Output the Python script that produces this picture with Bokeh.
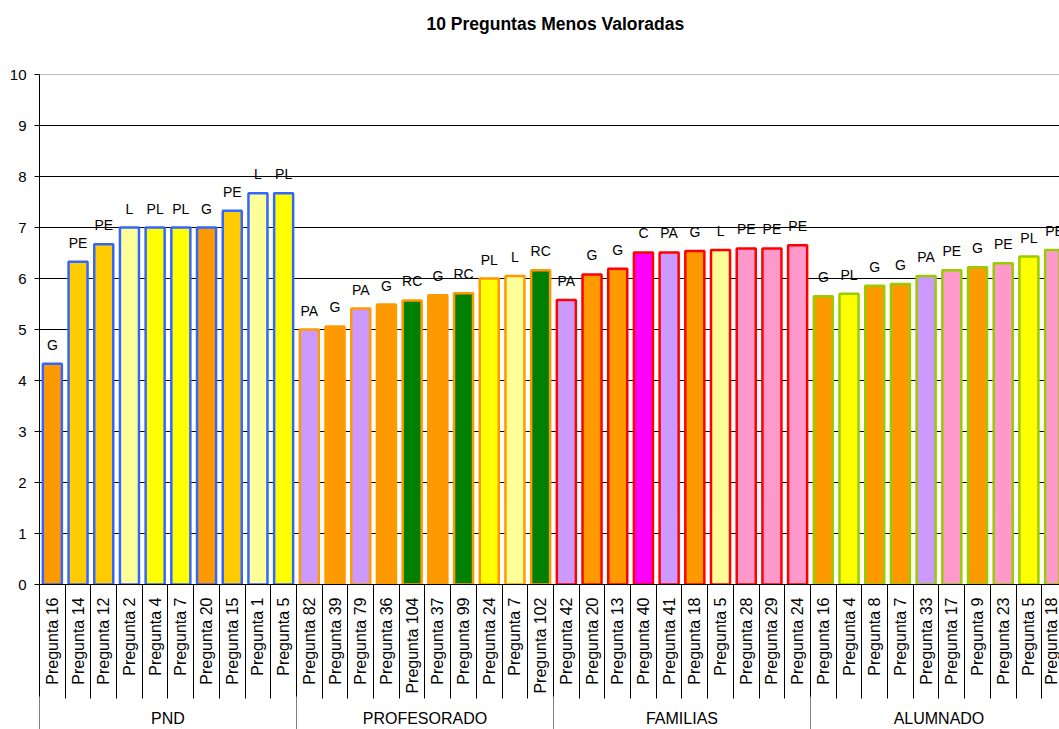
import math
from bokeh.plotting import figure
from bokeh.models import ColumnDataSource, Range1d, LinearAxis, FixedTicker, Span
from bokeh.core.properties import value
from bokeh.embed import file_html
from bokeh.resources import INLINE

# ---------------- data ----------------
groups = ["PND", "PROFESORADO", "FAMILIAS", "ALUMNADO"]

pnd_questions = ["Pregunta 16", "Pregunta 14", "Pregunta 12", "Pregunta 2", "Pregunta 4",
                 "Pregunta 7", "Pregunta 20", "Pregunta 15", "Pregunta 1", "Pregunta 5"]
pnd_values = [4.33, 6.33, 6.67, 7.0, 7.0, 7.0, 7.0, 7.33, 7.67, 7.67]
pnd_codes = ["G", "PE", "PE", "L", "PL", "PL", "G", "PE", "L", "PL"]

prof_questions = ["Pregunta 82", "Pregunta 39", "Pregunta 79", "Pregunta 36", "Pregunta 104",
                  "Pregunta 37", "Pregunta 99", "Pregunta 24", "Pregunta 7", "Pregunta 102"]
prof_values = [5.0, 5.06, 5.41, 5.49, 5.57, 5.67, 5.71, 6.0, 6.05, 6.16]
prof_codes = ["PA", "G", "PA", "G", "RC", "G", "RC", "PL", "L", "RC"]

fam_questions = ["Pregunta 42", "Pregunta 20", "Pregunta 13", "Pregunta 40", "Pregunta 41",
                 "Pregunta 18", "Pregunta 5", "Pregunta 28", "Pregunta 29", "Pregunta 24"]
fam_values = [5.58, 6.08, 6.19, 6.51, 6.51, 6.54, 6.56, 6.59, 6.59, 6.65]
fam_codes = ["PA", "G", "G", "C", "PA", "G", "L", "PE", "PE", "PE"]

alu_questions = ["Pregunta 16", "Pregunta 4", "Pregunta 8", "Pregunta 7", "Pregunta 33",
                 "Pregunta 17", "Pregunta 9", "Pregunta 23", "Pregunta 5", "Pregunta 18"]
alu_values = [5.65, 5.70, 5.86, 5.89, 6.05, 6.16, 6.22, 6.30, 6.43, 6.56]
alu_codes = ["G", "PL", "G", "G", "PA", "PE", "G", "PE", "PL", "PE"]

y_ticks = [0, 1, 2, 3, 4, 5, 6, 7, 8, 9, 10]

# ---------------- styles ----------------
fill_by_code = {"G": "#FF9900", "PE": "#FF99CC", "L": "#FFFF99", "PL": "#FFFF00",
                "PA": "#CC99FF", "RC": "#008000", "C": "#FF00FF"}
pnd_pe_fill = "#FFCC00"
outline_by_group = {"PND": "#3366FF", "PROFESORADO": "#FF9900",
                    "FAMILIAS": "#FF0000", "ALUMNADO": "#99CC00"}
FONT = "Liberation Sans"

# ---------------- assemble ----------------
all_q = [pnd_questions, prof_questions, fam_questions, alu_questions]
all_v = [pnd_values, prof_values, fam_values, alu_values]
all_c = [pnd_codes, prof_codes, fam_codes, alu_codes]

xs, tops, codes, names, fills, lines = [], [], [], [], [], []
group_centers, boundaries = [], [0]
i = 0
for g, qs, vs, cs in zip(groups, all_q, all_v, all_c):
    start = i
    for q, v, c in zip(qs, vs, cs):
        xs.append(i + 0.5)
        tops.append(v)
        codes.append(c)
        names.append(q)
        fills.append(pnd_pe_fill if (g == "PND" and c == "PE") else fill_by_code[c])
        lines.append(outline_by_group[g])
        i += 1
    group_centers.append((start + i) / 2)
    boundaries.append(i)

src = ColumnDataSource(dict(x=xs, top=tops, code=codes, fill=fills, line=lines))

p = figure(width=1059, height=729, output_backend="svg", toolbar_location=None,
           x_range=Range1d(0, 39.69), y_range=Range1d(0, 10),
           min_border_left=39, min_border_right=0, min_border_top=74, min_border_bottom=145,
           background_fill_color="white", border_fill_color="white")
p.outline_line_color = None

xa = p.below[0]   # default bottom axis -> question labels
ya = p.left[0]

# invisible spacer axis above the frame so that the title sits high
spacer = LinearAxis(ticker=FixedTicker(ticks=[xs[0]]), axis_line_color=None,
                    major_tick_line_color=None, minor_tick_line_color=None,
                    major_tick_out=36, major_tick_in=0, minor_tick_out=0, minor_tick_in=0,
                    major_label_standoff=0, major_label_text_font_size="1px",
                    major_label_text_color=None)
spacer.major_label_overrides = {xs[0]: " "}
p.add_layout(spacer, "above")

p.title.text = "10 Preguntas Menos Valoradas"
p.title.text_font = FONT
p.title.text_font_size = "17.5px"
p.title.text_font_style = "bold"
p.title.text_color = "black"
p.title.align = "left"
p.title.offset = 387
p.title.standoff = 10

# grid
p.xgrid.visible = False
p.ygrid.ticker = FixedTicker(ticks=y_ticks[1:-1])
p.ygrid.grid_line_color = "black"
p.ygrid.grid_line_width = 1
p.add_layout(Span(location=y_ticks[-1], dimension="width", line_color="#808080", line_width=1))

# y axis
ya.ticker = FixedTicker(ticks=y_ticks)
ya.axis_line_color = "black"
ya.major_tick_line_color = "black"
ya.major_tick_out = 5
ya.major_tick_in = 0
ya.minor_tick_line_color = None
ya.major_label_standoff = 8
ya.major_label_text_font = FONT
ya.major_label_text_font_size = "15px"
ya.major_label_text_color = "black"

# x axis 1: question labels with separators
xa.ticker = FixedTicker(ticks=xs, minor_ticks=list(range(len(xs) + 1)))
xa.major_label_overrides = {x: n for x, n in zip(xs, names)}
xa.major_label_orientation = math.pi / 2
xa.major_tick_line_color = None
xa.major_tick_out = 0
xa.major_tick_in = 0
xa.minor_tick_line_color = "black"
xa.minor_tick_out = 114
xa.minor_tick_in = 0
xa.axis_line_color = "black"
xa.major_label_standoff = 13 - 114
xa.major_label_text_font = FONT
xa.major_label_text_font_size = "16px"
xa.major_label_text_color = "black"

# x axis 2: group labels with separators
ga = LinearAxis(ticker=FixedTicker(ticks=group_centers, minor_ticks=boundaries))
ga.major_label_overrides = {x: g for x, g in zip(group_centers, groups)}
ga.axis_line_color = None
ga.major_tick_line_color = None
ga.major_tick_out = 0
ga.major_tick_in = 0
ga.minor_tick_line_color = "#808080"
ga.minor_tick_out = 40
ga.minor_tick_in = 0
ga.major_label_standoff = 13 - 40
ga.major_label_text_font = FONT
ga.major_label_text_font_size = "16px"
ga.major_label_text_color = "black"
p.add_layout(ga, "below")

# bars
p.vbar(x="x", top="top", bottom=0, width=0.74, source=src,
       fill_color="fill", line_color="line", line_width=2.5)

# bar labels
p.text(x="x", y="top", text="code", source=src, text_font=value(FONT),
       text_font_size="14px", text_align="center", text_baseline="alphabetic",
       y_offset=-19, text_color="black")

open("out.html", "w").write(file_html(p, INLINE))
